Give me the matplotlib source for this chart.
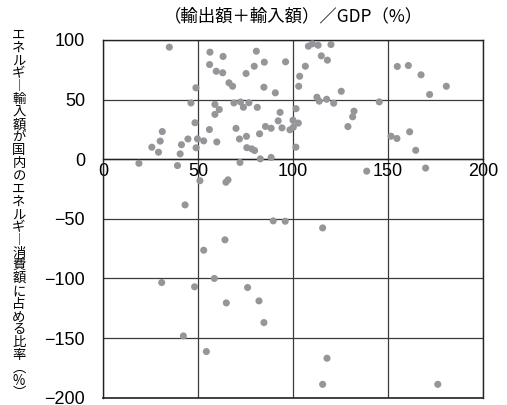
import matplotlib
matplotlib.use("Agg")
import matplotlib.pyplot as plt

plt.rcParams["font.family"] = ["Noto Sans CJK JP", "DejaVu Sans"]

# (exports + imports) / GDP, %
trade_gdp = [
    34.9, 56.3, 63.2, 80.7, 56.1, 59.6, 63.0, 75.3, 79.6, 84.9, 96.1, 103.5,
    66.3, 68.2, 48.9, 84.7, 90.7, 103.0, 108.1, 110.2, 113.2, 120.0, 114.9,
    118.1, 106.5, 125.4, 154.9, 160.7, 167.4, 171.9, 180.7,
    112.6, 113.8, 117.7, 121.4, 145.4, 46.3, 58.9, 61.2, 58.9, 68.9, 72.4,
    73.9, 76.8, 81.2, 93.2, 101.6, 92.2, 94.2, 85.5, 88.5, 100.0, 102.8,
    98.4, 100.2, 132.1, 131.4, 128.9, 31.2, 30.1, 25.7, 29.2, 41.3, 44.7,
    40.6, 48.4, 49.7, 49.0, 53.0, 56.0, 59.9, 70.0, 71.8, 75.5, 75.7, 78.3,
    79.8, 82.4, 101.5, 82.8, 88.5, 151.6, 154.7, 161.4, 164.6,
    72.1, 18.9, 39.2, 51.0, 64.7, 65.8, 138.8, 169.8, 43.2, 89.6, 95.9,
    64.2, 53.0, 30.9, 48.2, 58.6, 76.1, 64.9, 82.1, 84.7, 42.3, 54.4,
    115.6, 117.9, 115.6, 176.2,
]

# energy imports as a share of domestic energy consumption, %
energy_import_share = [
    94.0, 89.8, 86.2, 90.6, 79.4, 73.8, 72.5, 71.9, 78.0, 81.4, 81.7, 69.6,
    64.1, 61.2, 59.9, 60.4, 55.7, 61.2, 94.8, 96.8, 95.6, 96.2, 86.7,
    83.1, 78.0, 57.0, 77.8, 78.6, 70.8, 54.3, 61.2,
    52.0, 48.7, 50.3, 47.0, 48.1, 47.2, 46.0, 41.7, 37.6, 47.2, 48.0,
    43.6, 47.4, 43.5, 39.3, 42.4, 32.2, 26.3, 27.5, 26.0, 32.7, 30.3,
    24.7, 26.9, 40.3, 35.6, 27.4, 23.2, 15.2, 10.1, 5.9, 12.2, 17.0,
    4.5, 30.6, 17.1, 9.6, 15.4, 24.9, 14.5, 25.9, 17.0, 19.2, 9.7, 8.7,
    7.3, 21.3, 10.1, 0.3, 1.5, 19.3, 17.4, 23.0, 7.5,
    -2.7, -3.4, -5.3, -18.0, -19.3, -17.3, -10.0, -7.4, -38.3, -51.7, -52.0,
    -67.6, -76.3, -103.4, -107.0, -100.0, -107.6, -120.5, -118.8, -137.0,
    -148.2, -161.3, -57.6, -166.9, -188.8, -188.8,
]

x_ticks = [0, 50, 100, 150, 200]
y_ticks = [-200, -150, -100, -50, 0, 50, 100]

title = "（輸出額＋輸入額）／GDP（%）"
y_label = "エネルギー輸入額が国内のエネルギー消費額に占める比率（%）"

# upright forms for vertical writing
vertical_forms = {"ー": "︱", "（": "︵", "）": "︶"}

W, H = 507, 405
fig = plt.figure(figsize=(W / 100, H / 100), dpi=100)
ax = fig.add_axes([103 / W, 1 - 397.7 / H, 380 / W, 357.7 / H])

ax.scatter(trade_gdp, energy_import_share, s=26, color="#96969a",
           edgecolors="none", zorder=3)

ax.set_xlim(x_ticks[0], x_ticks[-1])
ax.set_ylim(y_ticks[0], y_ticks[-1])
ax.set_xticks(x_ticks)
ax.set_yticks(y_ticks)
ax.grid(True, color="#3a3a3a", linewidth=0.9, zorder=1)
ax.set_axisbelow(True)

# x axis runs along the zero line, frame is closed underneath
ax.spines["bottom"].set_position(("data", 0))
ax.axhline(y_ticks[0], color="#222222", linewidth=1.2, clip_on=False)
for side in ["left", "right", "top", "bottom"]:
    ax.spines[side].set_color("#222222")
    ax.spines[side].set_linewidth(1.0)

tick_font = ["Liberation Sans Narrow", "Liberation Sans", "DejaVu Sans"]
ax.tick_params(axis="both", length=0, labelsize=13, colors="black")
ax.tick_params(axis="x", pad=3)
ax.tick_params(axis="y", pad=13)
for lab in ax.get_xticklabels() + ax.get_yticklabels():
    lab.set_family(tick_font)

fig.text(293 / W, 1 - 16.5 / H, title, ha="center", va="center", fontsize=12.5)

# vertical (tategaki) axis label, one character at a time
for i, ch in enumerate(y_label):
    fig.text(19 / W, 1 - (35 + i * 12.8) / H, vertical_forms.get(ch, ch),
             ha="center", va="center", fontsize=9.6)

fig.savefig("out.png", dpi=100)
